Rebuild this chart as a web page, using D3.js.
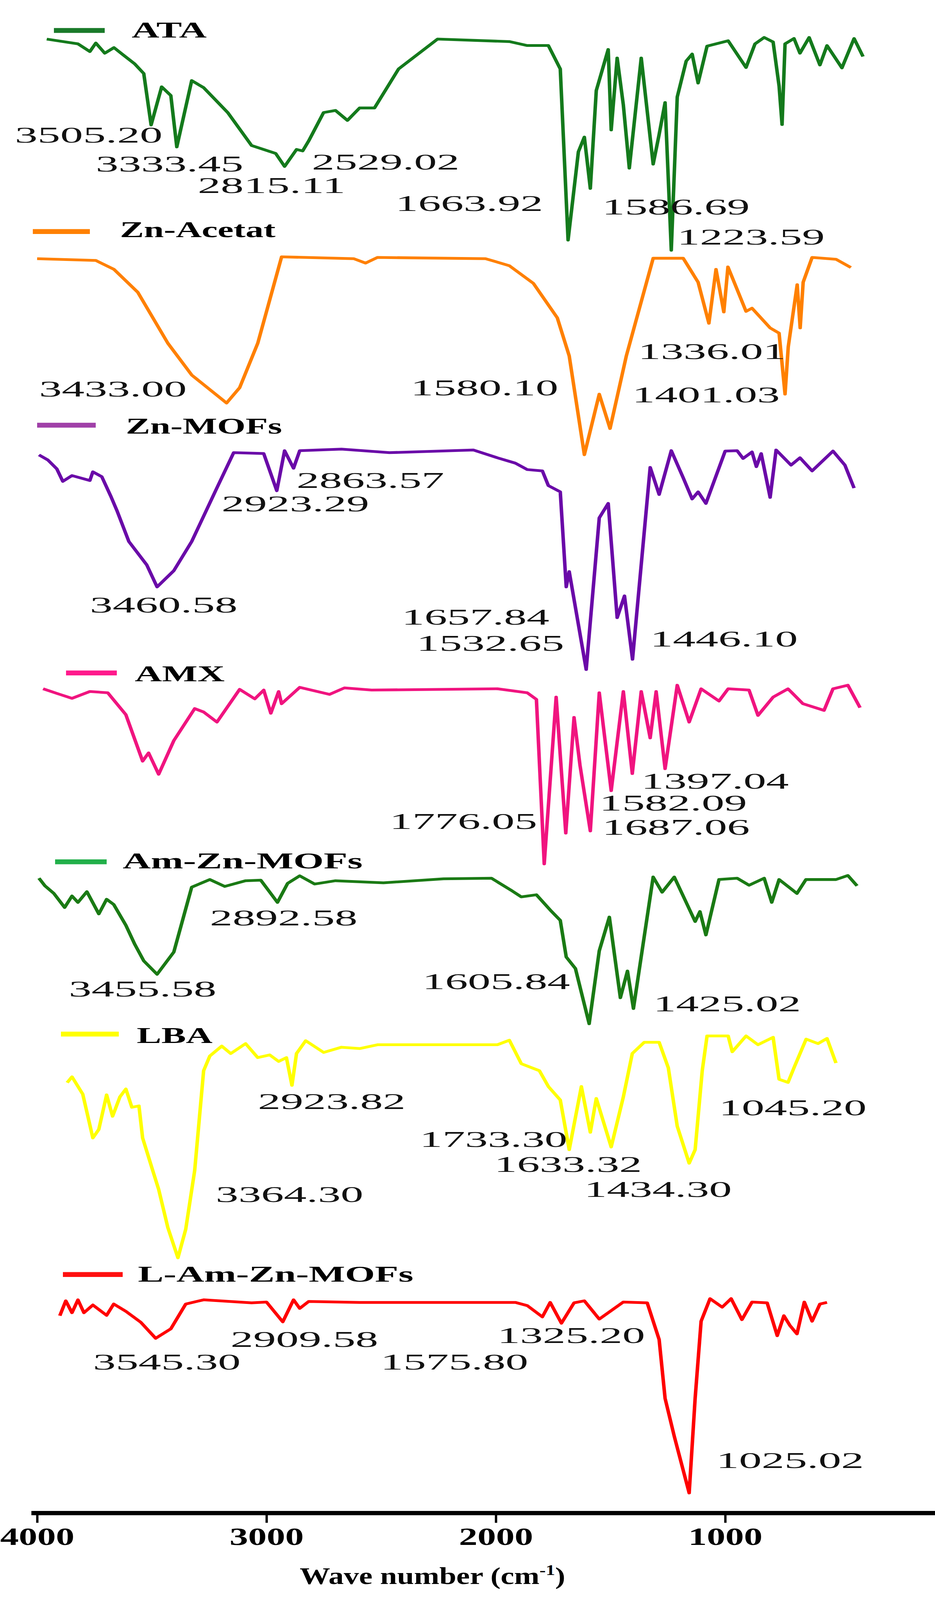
<!DOCTYPE html>
<html><head><meta charset="utf-8">
<script src="https://cdn.jsdelivr.net/npm/d3@7"></script>
<style>html,body{margin:0;padding:0;background:#fff;width:100%;height:100%;overflow:hidden}svg{display:block}text{font-family:"Liberation Serif","Times New Roman",serif}</style>
</head><body><svg id="c" viewBox="0 0 2393 5245" preserveAspectRatio="none" style="width:100vw;height:100vh"></svg>
<script>
// ---- data: [wavenumber, relative transmittance %] ----
const seriesNames = ["ATA","Zn-Acetat","Zn-MOFs","AMX","Am-Zn-MOFs","LBA","L-Am-Zn-MOFs"];
const ATA = [[3958,98.8],[3822,96.5],[3770,92.8],[3744,96.9],[3705,92],[3665,94.7],[3626,91.3],[3574,86.8],[3535,82.2],[3503,57.4],[3457,75.8],[3417,71.6],[3391,46.8],[3326,78.8],[3274,75.4],[3169,63.4],[3065,47.5],[2960,43.7],[2921,37.4],[2869,45.6],[2842,44.9],[2816,49.7],[2751,63.4],[2699,64.4],[2647,59.6],[2594,65.6],[2529,65.6],[2424,84.4],[2254,98.8],[1941,97.6],[1863,95.7],[1771,95.7],[1719,84.4],[1685,1.9],[1640,44.5],[1614,51.6],[1588,26.8],[1562,74],[1510,93.8],[1497,55],[1471,89.7],[1444,67],[1418,36.6],[1366,89.7],[1314,38.5],[1288,52.8],[1262,68.2],[1235,-3],[1209,70.9],[1170,88.2],[1144,91.6],[1118,77.6],[1079,95.4],[987,98],[909,85.1],[870,96.5],[830,99.6],[791,97.4],[765,76.2],[752,57.6],[739,96.5],[700,99.1],[674,92],[634,99.6],[587,86.3],[556,95.7],[491,84.9],[438,99.1],[399,90.4]];
const ZnAcetat = [[4000,98.8],[3744,97.9],[3665,93.5],[3561,82.1],[3430,56.8],[3326,41],[3174,27.1],[3117,34.7],[3038,56.8],[2934,99.7],[2620,98.8],[2568,96.6],[2516,99.4],[2045,98.8],[1941,95.3],[1836,86.5],[1732,69.4],[1680,50.5],[1614,1.4],[1549,31.5],[1502,14.4],[1431,50.5],[1314,99],[1183,99],[1118,87.1],[1071,66.7],[1040,93.5],[1006,72.3],[988,94.7],[909,72.6],[883,74.2],[804,64.4],[765,61.8],[739,31.5],[725,55],[686,85.9],[673,64.4],[660,87.1],[621,99.4],[517,98.5],[452,94.4]];
const ZnMOFs = [[3992,97.1],[3953,94.8],[3914,90.8],[3888,85.2],[3848,87.8],[3770,85.6],[3757,89.5],[3718,87.3],[3679,78.6],[3652,72.1],[3600,58.2],[3522,47.7],[3477,37.8],[3404,45.1],[3326,58.2],[3221,81.2],[3143,98.1],[3012,97.7],[2955,81],[2921,99],[2882,91.1],[2855,99],[2673,99.7],[2464,98.1],[2098,99.3],[1993,95.8],[1915,93.4],[1863,90.5],[1797,89.9],[1771,83.3],[1719,80.5],[1693,37.8],[1680,44.7],[1606,0.7],[1549,68.8],[1510,75.3],[1471,24],[1439,33.8],[1404,5.3],[1327,91.5],[1288,79.3],[1235,99],[1183,86.8],[1144,77.3],[1118,80.5],[1084,75.3],[1000,98.8],[948,99],[922,95.5],[883,98.4],[864,91.8],[843,97.7],[804,78],[778,99.3],[713,92.5],[674,95.8],[621,89.9],[530,98.8],[478,92.5],[438,82.2]];
const AMX = [[3974,97.8],[3901,94.7],[3848,92.5],[3770,96.3],[3692,95.6],[3613,83.4],[3540,57.6],[3514,62.2],[3470,50.3],[3404,69],[3313,86.8],[3274,84.9],[3216,79.3],[3117,97.5],[3051,92.2],[3012,97.1],[2981,84.2],[2947,96.3],[2934,89.5],[2855,98.6],[2725,94.7],[2660,98.3],[2542,97.1],[1993,97.8],[1863,95.6],[1823,91.9],[1789,0.5],[1737,93.2],[1695,17.6],[1659,81.9],[1633,55.3],[1588,18.8],[1549,95.6],[1497,41.2],[1444,96.3],[1405,50.7],[1366,96.3],[1327,70.5],[1301,96.3],[1262,53.4],[1209,99.8],[1157,79.3],[1105,97.8],[1027,91],[987,97.8],[896,97.1],[857,83],[791,93.2],[726,97.8],[661,89.5],[569,85.8],[530,97.8],[465,99.8],[412,87.3]];
const AmZnMOFs = [[3992,98.2],[3966,93.1],[3927,88],[3880,78.6],[3848,86.3],[3822,82],[3783,89.2],[3731,74.3],[3697,84.1],[3666,80.6],[3613,66.7],[3574,53.9],[3535,42.9],[3477,33.9],[3404,48.8],[3326,92.2],[3247,97.3],[3182,92.7],[3091,96.5],[3025,96.9],[2952,82],[2908,94.7],[2855,99.8],[2790,94.3],[2699,96.5],[2490,95.1],[2228,97.8],[2019,98.2],[1928,89.6],[1889,85.7],[1823,87.1],[1758,76.1],[1719,70],[1693,45.5],[1653,37.8],[1593,0.8],[1549,49.6],[1505,72.2],[1457,18.2],[1426,36.1],[1400,11],[1314,99],[1275,88.8],[1222,99],[1170,82],[1131,69.2],[1110,75.9],[1084,60.2],[1027,97.3],[948,98.2],[896,93.5],[830,98.2],[797,82],[765,97.3],[687,88],[648,97.3],[517,97.3],[465,100],[425,93.1]];
const LBA = [[3869,78.5],[3848,81.1],[3801,73.4],[3757,54],[3731,57.8],[3697,73.1],[3671,63.6],[3639,72.2],[3613,75.7],[3587,67.6],[3556,68.2],[3540,54],[3496,39.6],[3470,31.2],[3430,14.3],[3386,0.9],[3352,13.6],[3313,39.6],[3274,83.8],[3247,90.3],[3195,94.7],[3156,91.4],[3091,95.8],[3038,89.6],[2986,90.8],[2947,87.9],[2913,89.6],[2889,77.3],[2869,91.4],[2829,97.1],[2751,91.9],[2673,94.2],[2594,93.6],[2516,95.3],[1993,95.3],[1941,97.3],[1889,86.9],[1810,83.8],[1771,76.8],[1719,70.8],[1680,48.8],[1627,76.8],[1588,56.5],[1562,71.5],[1497,50],[1444,72.2],[1405,91.4],[1353,96.4],[1288,96.4],[1248,85.1],[1209,59.2],[1157,42.8],[1131,48.8],[1100,83.8],[1079,99.2],[987,99.2],[969,92.2],[909,99.2],[857,95.3],[791,98.6],[765,80],[726,78.6],[700,85.1],[647,97.8],[595,95.8],[556,98.1],[517,87.2]];
const LAmZnMOFs = [[3901,90.3],[3875,97.8],[3848,91.8],[3822,98.3],[3796,91.8],[3757,95.7],[3697,90.5],[3666,96.2],[3613,92.5],[3548,87],[3483,78.9],[3417,83.7],[3352,96.2],[3274,98.3],[3065,96.8],[3000,97.2],[2929,87.2],[2882,98.3],[2855,94],[2816,97.5],[2594,97],[1915,97],[1863,95.4],[1797,89.7],[1763,97],[1714,86.5],[1659,96.8],[1614,97.8],[1549,88.6],[1444,97.2],[1340,96.8],[1288,78.3],[1262,48.6],[1222,29.5],[1157,0.9],[1131,48.6],[1105,87.5],[1066,98.9],[1013,94.6],[974,98.9],[927,88.3],[883,97.2],[817,96.8],[773,80.2],[744,90.3],[718,85.4],[687,81.1],[655,97.2],[621,87.5],[587,96.2],[556,97]];
const seriesValues = [ATA, ZnAcetat, ZnMOFs, AMX, AmZnMOFs, LBA, LAmZnMOFs];
const peakLabels = [
 ["3505.20","3333.45","2815.11","2529.02","1663.92","1586.69","1223.59"],
 ["3433.00","1580.10","1336.01","1401.03"],
 ["2863.57","2923.29","3460.58","1657.84","1532.65","1446.10"],
 ["1397.04","1582.09","1776.05","1687.06"],
 ["2892.58","3455.58","1605.84","1425.02"],
 ["2923.82","1045.20","1733.30","1633.32","3364.30","1434.30"],
 ["3545.30","2909.58","1325.20","1575.80","1025.02"]];
const xTicks = [4000,3000,2000,1000];
const xTitle = "Wave number (cm";

// ---- layout / style ----
const colors = ["#147a1c","#ff8000","#6a0aa8","#f0147f","#1a7a14","#ffff00","#ff0000"];
const legendColors = ["#1a7a2a","#ff8000","#a040a8","#ff1a8c","#22b04a","#ffff00","#ff1010"];
const bands = [[120,800],[840,1500],[1470,2200],[2245,2835],[2870,3360],[3390,4130],[4250,4900]];
const legendPos = [[138,268,100,337,123,192],[84,230,759,307,777,398],[95,245,1394,322,1422,400],[169,299,2206,345,2233,230],[141,273,2825,314,2847,614],[156,304,3390,350,3419,194],[161,314,4178,353,4202,705]];
const labelPos = [
 [[38,468],[245,562],[506,633],[798,556],[1012,692],[1541,703],[1733,802]],
 [[100,1300],[1051,1296],[1633,1177],[1618,1319]],
 [[759,1600],[567,1676],[230,2008],[1028,2047],[1066,2133],[1664,2119]],
 [[1641,2585],[1534,2657],[997,2717],[1541,2737]],
 [[537,3033],[176,3267],[1081,3242],[1672,3315]],
 [[660,3635],[1840,3656],[1074,3760],[1265,3841],[552,3940],[1495,3923]],
 [[238,4489],[590,4415],[1273,4403],[974,4489],[1833,4812]]];

const svg = d3.select("#c");
const x = d3.scaleLinear().domain([4000,1000]).range([95,1856]);

seriesValues.forEach((vals,i)=>{
  const y = d3.scaleLinear().domain([0,100]).range([bands[i][1],bands[i][0]]);
  const line = d3.line().x(d=>x(d[0])).y(d=>y(d[1]));
  svg.append("path").datum(vals).attr("d",line).attr("fill","none")
    .attr("stroke",colors[i]).attr("stroke-width",9).attr("stroke-linejoin","round");
  const L = legendPos[i];
  svg.append("line").attr("x1",L[0]).attr("x2",L[1]).attr("y1",L[2]).attr("y2",L[2])
    .attr("stroke",legendColors[i]).attr("stroke-width",16);
  svg.append("text").attr("x",L[3]).attr("y",L[4]).text(seriesNames[i])
    .attr("font-size",74).attr("font-weight","bold").attr("fill","#000")
    .attr("textLength",L[5]).attr("lengthAdjust","spacingAndGlyphs");
  peakLabels[i].forEach((t,j)=>{
    const p = labelPos[i][j];
    svg.append("text").attr("x",p[0]).attr("y",p[1]).text(t)
      .attr("font-size",72).attr("fill","#111")
      .attr("textLength",54*t.length).attr("lengthAdjust","spacingAndGlyphs");
  });
});

// axis
const axisY = 4960;
const ax = svg.append("g").attr("transform",`translate(0,${axisY})`)
  .call(d3.axisBottom(x).tickValues(xTicks).tickSize(32).tickSizeOuter(0).tickFormat(d3.format("d")));
ax.select(".domain").remove();
ax.selectAll(".tick line").attr("stroke","#000").attr("stroke-width",6);
ax.selectAll(".tick text").attr("font-size",80).attr("font-weight","bold").attr("fill","#000")
  .attr("font-family","Liberation Serif").attr("dy","0").attr("y",105)
  .attr("textLength",190).attr("lengthAdjust","spacingAndGlyphs");
svg.append("line").attr("x1",x(4025)).attr("x2",2393).attr("y1",axisY).attr("y2",axisY)
  .attr("stroke","#000").attr("stroke-width",14);
const tt = svg.append("text").attr("x",767).attr("y",5193).attr("font-size",78).attr("font-weight","bold");
tt.append("tspan").text(xTitle);
tt.append("tspan").text("-1").attr("font-size",48).attr("dy",-30);
tt.append("tspan").text(")").attr("dy",30);
</script></body></html>
